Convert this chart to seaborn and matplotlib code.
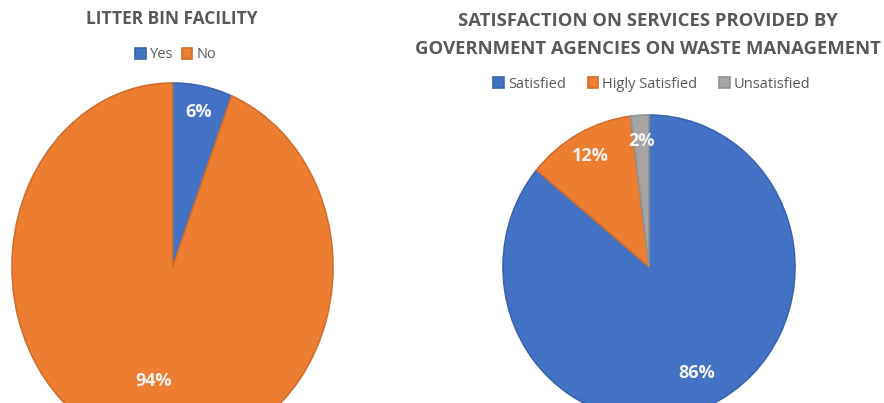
"""Two pie charts: litter bin facility and satisfaction with waste services"""

import matplotlib
matplotlib.use("Agg")
import matplotlib.pyplot as plt
import seaborn as sns
import numpy as np
from matplotlib.colors import to_rgb

# data
bin_labels = ["Yes", "No"]
bin_values = [6, 94]

sat_labels = ["Satisfied", "Higly Satisfied", "Unsatisfied"]
sat_values = [86, 12, 2]

bin_title = "LITTER BIN FACILITY"
sat_title = "SATISFACTION ON SERVICES PROVIDED BY\nGOVERNMENT AGENCIES ON WASTE MANAGEMENT"

sns.set_theme(style="white")
plt.rcParams["font.family"] = ["Open Sans", "DejaVu Sans"]

palette = sns.color_palette(["#4472C4", "#ED7D31", "#A5A5A5"])
TEXT_GREY = "#595959"

W, H = 884, 403
fig = plt.figure(figsize=(W / 100, H / 100), dpi=100)


def px_axes(x0, y0, x1, y1):
    """Axes from pixel box (top-left origin)"""
    return fig.add_axes([x0 / W, (H - y1) / H, (x1 - x0) / W, (y1 - y0) / H])


def darker(c, f=0.88):
    r, g, b = to_rgb(c)
    return (r * f, g * f, b * f)


def draw_pie(ax, values, colors, label_r):
    wedges, _ = ax.pie(values, colors=colors, startangle=90, counterclock=False,
                       radius=1.0, wedgeprops=dict(linewidth=1.2))
    for w, c in zip(wedges, colors):
        w.set_edgecolor(darker(c))
    ax.set_aspect("auto")
    ax.set_xlim(-1.0, 1.0)
    ax.set_ylim(-1.0, 1.0)
    ax.axis("off")
    total = sum(values)
    for w, v, r in zip(wedges, values, label_r):
        mid = np.deg2rad((w.theta1 + w.theta2) / 2)
        ax.text(r * np.cos(mid), r * np.sin(mid), f"{v / total * 100:.0f}%",
                ha="center", va="center", color="#F4F4F4",
                fontsize=13, fontweight="bold")
    return wedges


# left pie
ax1 = px_axes(12, 83, 333, 451)
w1 = draw_pie(ax1, bin_values, palette[:2], [0.86, 0.63])
fig.text(172 / W, 1 - 19 / H, bin_title, ha="center", va="center",
         fontsize=12.5, fontweight="bold", color=TEXT_GREY)
fig.legend(w1, bin_labels, loc="center", bbox_to_anchor=(176 / W, 1 - 55 / H),
           ncol=2, frameon=False, fontsize=10.5, labelcolor=TEXT_GREY,
           handlelength=0.7, handleheight=0.7, handletextpad=0.3,
           columnspacing=0.6)

# right pie
ax2 = px_axes(503, 115, 795, 419)
w2 = draw_pie(ax2, sat_values, palette[:3], [0.77, 0.83, 0.83])
fig.text(648 / W, 1 - 35 / H, sat_title, ha="center", va="center",
         fontsize=13.3, fontweight="bold", color=TEXT_GREY, linespacing=1.75)
fig.legend(w2, sat_labels, loc="center", bbox_to_anchor=(652 / W, 1 - 84 / H),
           ncol=3, frameon=False, fontsize=10.5, labelcolor=TEXT_GREY,
           handlelength=0.7, handleheight=0.7, handletextpad=0.3,
           columnspacing=1.5)

fig.savefig("out.png", dpi=100)
